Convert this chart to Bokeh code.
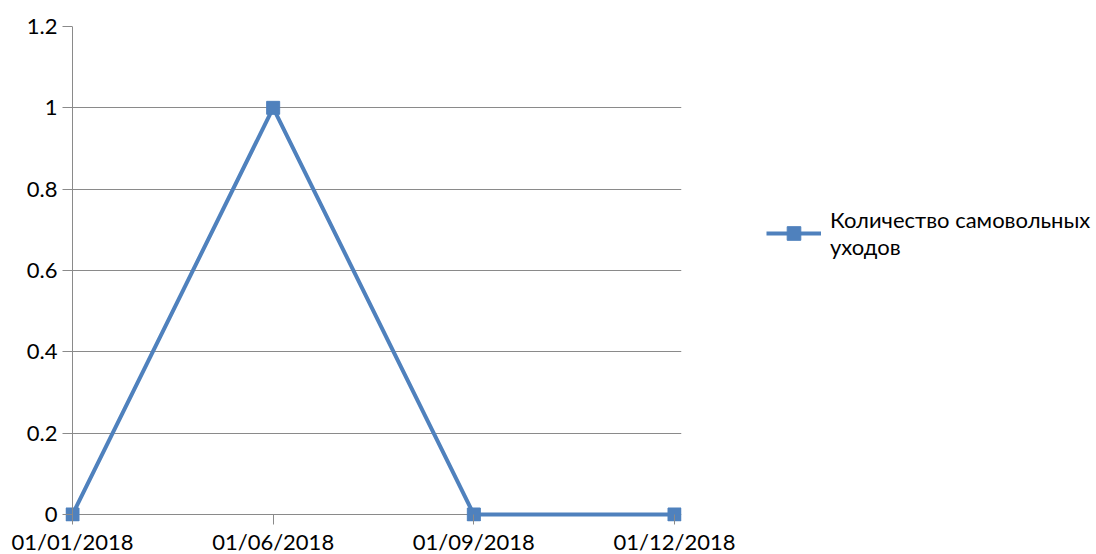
from bokeh.plotting import figure
from bokeh.models import FixedTicker, CustomJSTickFormatter, Legend, LegendItem, Range1d, Span
from bokeh.embed import file_html
from bokeh.resources import INLINE

categories = ["01/01/2018", "01/06/2018", "01/09/2018", "01/12/2018"]
values = [0, 1, 0, 0]
y_ticks = [0, 0.2, 0.4, 0.6, 0.8, 1, 1.2]
series_name = "Количество самовольных\nуходов"

FONT = "Lato"
GRID = "#8a8a8a"
BLUE = "#4F81BD"

# layout (pixels)
PLOT_W = 602      # pixel distance between first and last category
PLOT_H = 488      # pixel height from 0 to 1.2
PAD = 7           # extra frame room so edge markers are not clipped
Y_MAX = 1.2
n = len(categories)
xs = list(range(n))
x_pad = PAD * (n - 1) / PLOT_W
y_pad = PAD * Y_MAX / PLOT_H

p = figure(frame_width=PLOT_W + 2 * PAD, frame_height=PLOT_H + PAD,
           output_backend="svg", toolbar_location=None,
           x_range=Range1d(-x_pad, n - 1 + x_pad), y_range=Range1d(-y_pad, Y_MAX),
           min_border_left=72 - PAD, min_border_top=26,
           min_border_right=1096 - (72 + PLOT_W + PAD), min_border_bottom=554 - (26 + PLOT_H + PAD))
p.outline_line_color = None
p.background_fill_color = "white"

p.xgrid.grid_line_color = None
p.ygrid.grid_line_color = GRID
p.ygrid.grid_line_width = 1

p.add_layout(Span(location=0, dimension="height", line_color=GRID, line_width=1))

ln = p.line(xs, values, line_color=BLUE, line_width=4)
sc = p.scatter(xs, values, marker="square", size=13, fill_color=BLUE, line_color=BLUE)

p.xaxis.ticker = FixedTicker(ticks=xs)
p.xaxis.major_label_overrides = {i: c for i, c in enumerate(categories)}
p.yaxis.ticker = FixedTicker(ticks=y_ticks)
p.yaxis.formatter = CustomJSTickFormatter(code="return String(Math.round(tick*10)/10);")

for ax in (p.xaxis[0], p.yaxis[0]):
    ax.axis_line_color = None
    ax.major_tick_line_color = GRID
    ax.major_tick_out = 10 - PAD
    ax.major_tick_in = PAD
    ax.minor_tick_line_color = None
    ax.major_label_text_font = FONT
    ax.major_label_text_font_size = "22px"
    ax.major_label_text_color = "black"
p.yaxis.major_label_standoff = 5
p.xaxis.major_label_standoff = 3

legend = Legend(items=[LegendItem(label=series_name, renderers=[ln, sc])],
                location=(85, 261), border_line_color=None, background_fill_alpha=0,
                padding=0, margin=0, glyph_width=55, glyph_height=34, label_standoff=9,
                label_text_font=FONT, label_text_font_size="22px", label_text_color="black")
p.add_layout(legend, "right")

open("out.html", "w").write(file_html(p, INLINE))
